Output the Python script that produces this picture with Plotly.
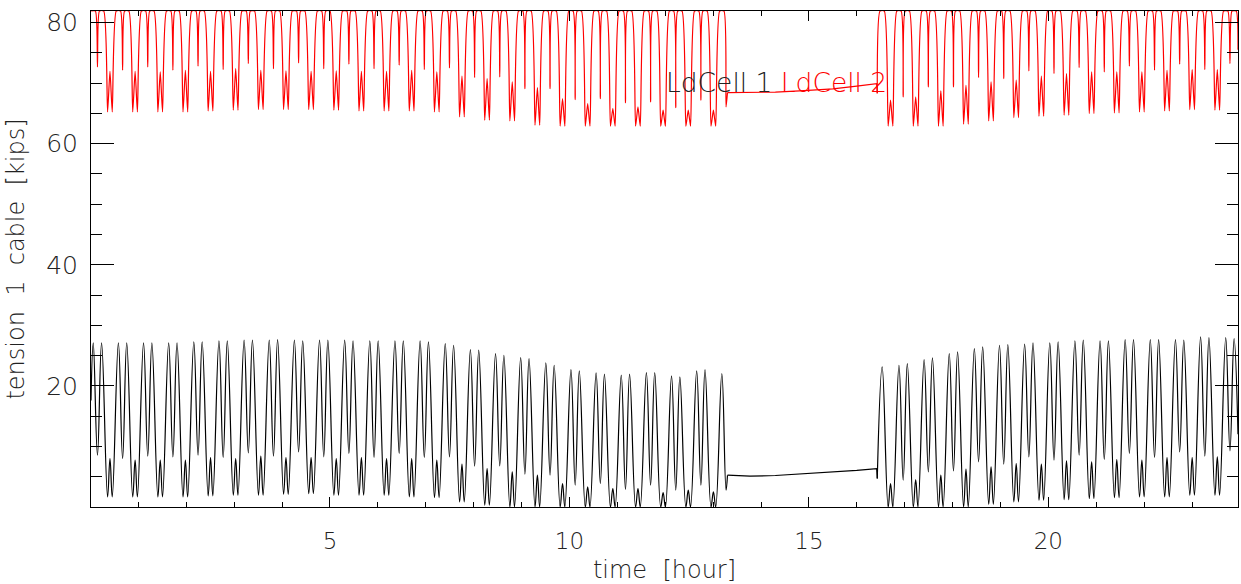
import plotly.graph_objects as go

# ---------------- data ----------------
# time of the first peak of every wave cycle [hour]
cycle_t = [0.057, 0.582, 1.107, 1.632, 2.157, 2.682, 3.207, 3.732, 4.257, 4.782,
           5.307, 5.832, 6.357, 6.882, 7.407, 7.932, 8.457, 8.982, 9.507, 10.032,
           10.557, 11.082, 11.607, 12.132, 12.657, 13.182,
           16.356, 16.881, 17.406, 17.931, 18.455, 18.980, 19.505, 20.030, 20.555,
           21.080, 21.604, 22.129, 22.654, 23.179, 23.704]
N1 = 26  # cycles before the quiet interval

# LdCell 1 (black): first peak, dip between peaks, second peak, trough, small hump in trough
blk_p1 = [27.10, 27.10, 27.10, 27.10, 27.27, 27.43, 27.54, 27.54, 27.54, 27.54,
          27.54, 27.43, 27.43, 27.43, 26.99, 26.00, 25.34, 24.68, 23.80, 22.70,
          22.15, 21.76, 22.20, 21.65, 22.47, 22.04,
          None, 23.41, 24.35, 25.34, 26.16, 26.71, 26.88, 27.10, 27.43, 27.43,
          27.65, 27.65, 27.65, 28.09, 27.98]
blk_d = [8.55, 8.00, 8.39, 8.28, 8.55, 8.17, 8.94, 8.39, 9.10, 8.28,
         8.83, 8.17, 8.83, 8.17, 8.28, 6.73, 6.79, 5.41, 5.25, 3.60,
         3.87, 2.89, 3.60, 2.78, 3.60, 2.78,
         None, 4.42, 5.80, 5.96, 7.45, 7.07, 8.28, 7.73, 8.55, 7.84,
         8.83, 8.17, 9.10, 8.39, 9.27]
blk_p2 = [27.10, 27.10, 27.10, 27.10, 27.27, 27.43, 27.54, 27.65, 27.43, 27.54,
          27.43, 27.43, 27.43, 27.27, 26.71, 25.89, 25.06, 24.51, 23.41, 22.48,
          21.93, 21.93, 22.20, 21.49, 22.69, None,
          23.14, 23.69, 24.62, 25.61, 26.44, 26.82, 27.10, 27.27, 27.54, 27.43,
          27.65, 27.65, 27.54, 27.98, 27.81]
blk_m = [1.67, 1.67, 1.67, 1.67, 1.84, 1.95, 1.95, 2.11, 2.22, 1.95,
         1.95, 1.95, 1.67, 1.56, 0.85, 0.30, 0.0, 0.0, 0.0, 0.0,
         0.0, 0.0, 0.0, 0.0, 0.0, None,
         0.0, 0.0, 0.0, 0.0, 0.46, 0.85, 1.12, 1.23, 1.40, 1.56,
         1.67, 1.67, 1.95, 1.95, None]
blk_h = [8.00, 7.73, 7.73, 7.73, 8.17, 8.00, 8.39, 8.17, 8.17, 8.00,
         8.17, 8.00, 8.00, 7.73, 7.07, 6.35, 5.80, 5.25, 3.87, 3.32,
         3.05, 3.05, 2.39, 2.78, 2.50, None,
         3.87, 4.53, 5.25, 6.24, 6.62, 7.18, 7.07, 7.62, 7.45, 7.84,
         7.73, 8.17, 8.17, 8.28, None]

# LdCell 2 (red): peaks are saturated at the top of the range
red_top = [81.9] * 26 + [None] + [81.9] * 14
red_top2 = [81.9] * 25 + [None] + [81.9] * 15
red_d = [72.67, 72.12, 72.67, 72.12, 72.78, 72.23, 73.22, 72.39, 73.33, 72.39,
         73.11, 72.39, 72.94, 72.23, 72.50, 70.91, 71.02, 69.09, 69.09, 67.28,
         67.44, 66.73, 66.89, 65.96, 67.17, 66.07,
         None, 67.72, 69.37, 69.37, 70.91, 70.74, 72.01, 71.57, 72.56, 71.84,
         72.78, 72.12, 73.11, 72.23, 73.22]
red_m = [65.24, 65.24, 65.24, 65.24, 65.41, 65.52, 65.63, 65.63, 65.63, 65.52,
         65.41, 65.41, 65.41, 65.24, 64.42, 63.87, 63.76, 63.04, 62.88, 62.88,
         62.88, 62.88, 62.88, 62.88, 62.88, None,
         62.88, 62.88, 62.88, 63.21, 63.76, 64.31, 64.53, 64.69, 64.97, 65.08,
         65.24, 65.41, 65.63, 65.52, None]
red_h = [71.95, 71.95, 71.84, 72.12, 71.95, 72.39, 72.12, 72.01, 71.95, 72.01,
         71.95, 71.95, 72.12, 71.84, 71.13, 70.74, 70.19, 69.26, 67.44, 66.62,
         65.79, 66.07, 65.52, 65.52, 65.52, None,
         67.17, 67.72, 68.71, 69.64, 70.19, 70.47, 71.13, 71.57, 71.84, 71.84,
         71.84, 72.12, 72.23, 72.23, None]

# quiet interval (no motion)
gap_t = [13.30, 13.77, 14.30, 14.81, 15.50, 16.00, 16.415, 16.428]
gap_blk = [5.25, 5.10, 5.20, 5.42, 5.80, 6.05, 6.35, 4.70]
gap_red = [68.43, 68.45, 68.50, 68.70, 69.05, 69.50, 69.90, 68.30]

start_t, start_blk = 0.01, 17.6
end_t, end_blk, end_red = 23.96, 12.0, 75.5

# time of each feature inside a cycle, relative to the first peak [hour]
blk_off = [0.0, 0.088, 0.174, 0.299, 0.349, 0.397]
red_off = [-0.045, 0.045, 0.088, 0.129, 0.219, 0.299, 0.349, 0.397]


def cyc_pts(idx, offs, vals):
    pts = []
    for off, v in zip(offs, vals):
        if v is not None:
            pts.append((cycle_t[idx] + off, v))
    return pts


def blk_cycle(i):
    return cyc_pts(i, blk_off, [blk_p1[i], blk_d[i], blk_p2[i], blk_m[i], blk_h[i], blk_m[i]])


def red_cycle(i):
    return cyc_pts(i, red_off, [red_top[i], red_top[i], red_d[i], red_top2[i], red_top2[i],
                                red_m[i], red_h[i], red_m[i]])


gap_b = list(zip(gap_t, gap_blk))
gap_r = list(zip(gap_t, gap_red))

b1 = [(start_t, start_blk)] + [p for i in range(N1) for p in blk_cycle(i)] + gap_b[:1]
b2 = gap_b[-1:] + [p for i in range(N1, len(cycle_t)) for p in blk_cycle(i)] + [(end_t, end_blk)]
r1 = [p for i in range(N1) for p in red_cycle(i)] + gap_r[:1]
r2 = gap_r[-1:] + [p for i in range(N1, len(cycle_t)) for p in red_cycle(i)] + [(end_t, end_red)]

fig = go.Figure()


def add(pts, color, shape, smooth):
    fig.add_trace(go.Scatter(x=[p[0] for p in pts], y=[p[1] for p in pts], mode="lines",
                             line=dict(color=color, width=1.2, shape=shape, smoothing=smooth),
                             showlegend=False, hoverinfo="skip"))


add(b1, "black", "spline", 1.2)
add(gap_b, "black", "linear", 0)
add(b2, "black", "spline", 1.2)
add(r1, "#ff0000", "spline", 0.55)
add(gap_r, "#ff0000", "linear", 0)
add(r2, "#ff0000", "spline", 0.55)

FONT = "DejaVu Sans"
SP = "\u00a0\u00a0"  # wide word gaps as in the original vector font

fig.add_annotation(x=11.98, y=70.1, xref="x", yref="y", xanchor="left", yanchor="middle",
                   text="LdCell 1 <span style='color:#ff0000'>LdCell 2</span>",
                   showarrow=False, font=dict(family=FONT, size=26.5, color="#222", weight=200))

fig.update_layout(
    width=1241, height=584,
    margin=dict(l=91, r=3, t=11, b=77, autoexpand=False),
    paper_bgcolor="white", plot_bgcolor="white",
    font=dict(family=FONT, size=24, color="#222", weight=200),
    xaxis=dict(range=[0.01, 23.96], tickmode="array", tickvals=[5, 10, 15, 20],
               ticks="inside", ticklen=10, tickcolor="black", tickwidth=1,
               minor=dict(tickmode="array", tickvals=[v for v in range(1, 24) if v % 5],
                          ticks="inside", ticklen=5, tickcolor="black"),
               showline=True, linecolor="black", linewidth=1, mirror="ticks",
               showgrid=False, zeroline=False, ticklabelstandoff=13, automargin=False,
               tickfont=dict(family=FONT, size=23, weight=200),
               title=dict(text="time" + SP + "[hour]", standoff=8,
                          font=dict(family=FONT, size=24, weight=200))),
    yaxis=dict(range=[0.0, 81.9], tickmode="array", tickvals=[20, 40, 60, 80],
               ticks="inside", ticklen=23, tickcolor="black", tickwidth=1,
               minor=dict(tickmode="array", tickvals=[v for v in range(5, 81, 5) if v % 20],
                          ticks="inside", ticklen=11, tickcolor="black"),
               showline=True, linecolor="black", linewidth=1, mirror="ticks",
               showgrid=False, zeroline=False, ticklabelstandoff=7, automargin=False,
               tickfont=dict(family=FONT, size=25, weight=200),
               title=dict(text="tension" + SP + "1" + SP + "cable" + SP + "[kips]", standoff=14,
                          font=dict(family=FONT, size=24, weight=200))),
)

fig.write_html("out.html", config={"displayModeBar": False},
               post_script="document.body.style.margin='0';document.body.style.overflow='hidden';")
